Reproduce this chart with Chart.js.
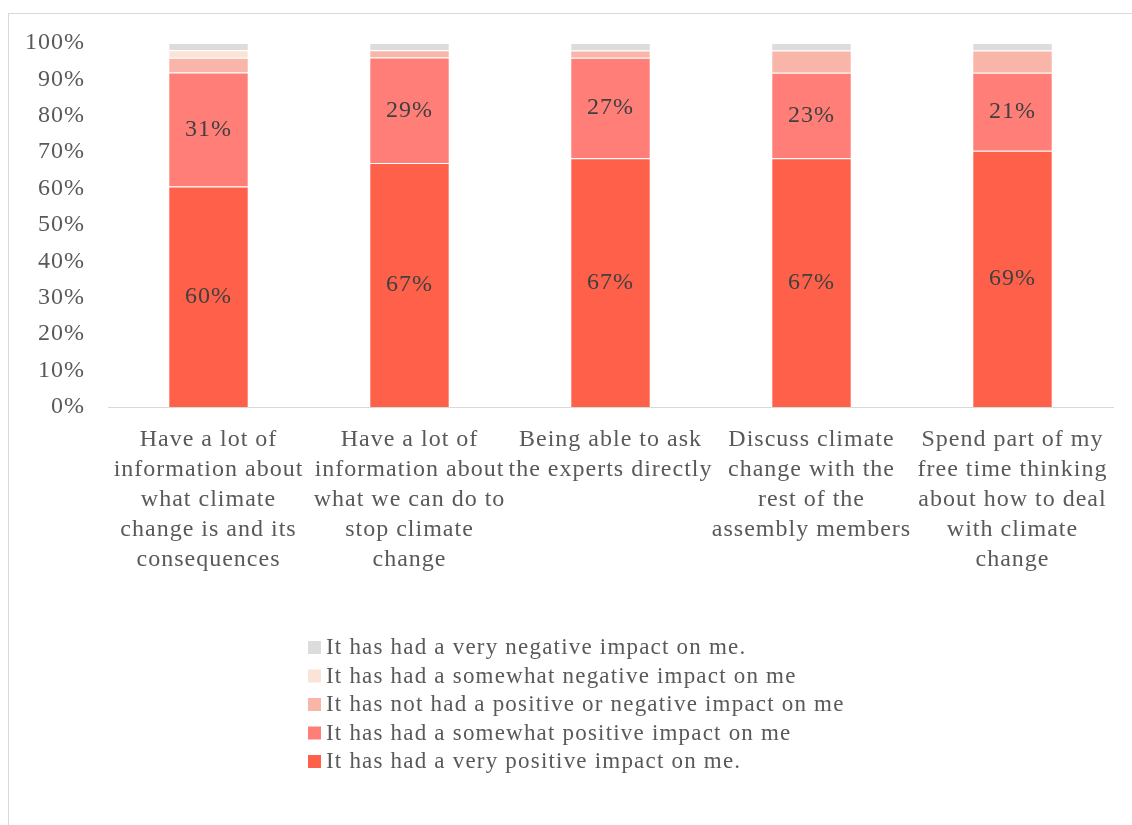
<!DOCTYPE html>
<html>
<head>
<meta charset="utf-8">
<script src="https://cdn.jsdelivr.net/npm/chart.js@4"></script>
<style>
  html, body { margin: 0; padding: 0; background: #fff; }
  #frame {
    position: absolute; left: 8px; top: 13px; width: 1200px; height: 900px;
    border: 1px solid #d9d9d9; box-sizing: border-box;
  }
  #wrap { position: absolute; left: 0; top: 0; width: 1132px; height: 825px; }
</style>
</head>
<body>
<div id="frame"></div>
<div id="wrap"><canvas id="impactChart"></canvas></div>
<script>
const categories = [
  ["Have a lot of", "information about", "what climate", "change is and its", "consequences"],
  ["Have a lot of", "information about", "what we can do to", "stop climate", "change"],
  ["Being able to ask", "the experts directly"],
  ["Discuss climate", "change with the", "rest of the", "assembly members"],
  ["Spend part of my", "free time thinking", "about how to deal", "with climate", "change"]
];

// answer shares in %, bottom of the stack first
const veryPositive = [60, 67, 67, 67, 69];
const somewhatPositive = [31, 29, 27, 23, 21];
const neutral = [4, 2, 2, 6, 6];
const somewhatNegative = [2, 0, 0, 0, 0];
const veryNegative = [2, 2, 2, 2, 2];

const seriesNames = [
  "It has had a very positive impact on me.",
  "It has had a somewhat positive impact on me",
  "It has not had a positive or negative impact on me",
  "It has had a somewhat negative impact on me",
  "It has had a very negative impact on me."
];
const seriesColors = ["#FF604A", "#FF7F78", "#F9B5A7", "#FBE3D6", "#DCDCDC"];
const labelledSeries = [true, true, false, false, false];

const yTicks = [0, 10, 20, 30, 40, 50, 60, 70, 80, 90, 100];

const rawSeries = [veryPositive, somewhatPositive, neutral, somewhatNegative, veryNegative];
const totals = categories.map((c, i) => rawSeries.reduce((s, arr) => s + arr[i], 0));

const FONT = "'Liberation Serif', 'DejaVu Serif', serif";
const TEXT = '#595959';

// 100% stacked: each column is scaled to its own total
const datasets = rawSeries.map((arr, k) => ({
  label: seriesNames[k],
  data: arr.map((v, i) => v / totals[i] * 100),
  raw: arr,
  showLabels: labelledSeries[k],
  backgroundColor: seriesColors[k],
  borderColor: 'rgba(255,255,255,0.5)',
  borderWidth: 1,
  categoryPercentage: 1,
  barPercentage: 0.4
}));

// slightly looser tracking so the serif text runs as wide as Garamond
const tracking = {
  id: 'tracking',
  beforeDraw(chart) { chart.ctx.letterSpacing = '1px'; }
};

const valueLabels = {
  id: 'valueLabels',
  afterDatasetsDraw(chart) {
    const ctx = chart.ctx;
    ctx.save();
    ctx.letterSpacing = '1px';
    ctx.font = '24px ' + FONT;
    ctx.fillStyle = '#404040';
    ctx.textAlign = 'center';
    ctx.textBaseline = 'middle';
    chart.data.datasets.forEach((ds, k) => {
      if (!ds.showLabels) return;
      chart.getDatasetMeta(k).data.forEach((bar, i) => {
        const mid = (bar.y + bar.base) / 2;
        ctx.fillText(ds.raw[i] + '%', bar.x, mid);
      });
    });
    ctx.restore();
  }
};

const stackedLegend = {
  id: 'stackedLegend',
  afterDraw(chart, args, opts) {
    const ctx = chart.ctx;
    ctx.save();
    ctx.letterSpacing = '1.2px';
    ctx.font = '23px ' + FONT;
    ctx.textBaseline = 'middle';
    const order = chart.data.datasets.map((d, k) => k).reverse();
    order.forEach((k, row) => {
      const ds = chart.data.datasets[k];
      const y = opts.top + row * opts.rowHeight;
      ctx.fillStyle = ds.backgroundColor;
      ctx.fillRect(opts.left, y - 6, 13, 13);
      ctx.fillStyle = TEXT;
      ctx.fillText(ds.label, opts.left + 18, y + 1);
    });
    ctx.restore();
  }
};

new Chart(document.getElementById('impactChart'), {
  type: 'bar',
  data: { labels: categories, datasets: datasets },
  plugins: [tracking, valueLabels, stackedLegend],
  options: {
    responsive: true,
    maintainAspectRatio: false,
    animation: false,
    layout: { padding: { left: 0, top: 43, right: 19, bottom: 218 } },
    plugins: {
      legend: { display: false },
      tooltip: { enabled: false },
      stackedLegend: { left: 308, top: 647, rowHeight: 28.5 }
    },
    scales: {
      x: {
        stacked: true,
        grid: { display: false, drawTicks: false },
        border: { display: true, color: '#d9d9d9', width: 1 },
        ticks: {
          color: TEXT,
          font: { family: FONT, size: 24, lineHeight: 1.25 },
          padding: 18,
          maxRotation: 0,
          autoSkip: false
        },
        afterFit: s => { s.height = 200; }
      },
      y: {
        stacked: true,
        min: 0,
        max: 100,
        afterBuildTicks: s => { s.ticks = yTicks.map(v => ({ value: v })); },
        grid: { display: false, drawTicks: false },
        border: { display: false },
        ticks: {
          color: TEXT,
          font: { family: FONT, size: 24 },
          padding: 23,
          callback: v => v + '%'
        },
        afterFit: s => { s.width = 108; }
      }
    }
  }
});
</script>
</body>
</html>
